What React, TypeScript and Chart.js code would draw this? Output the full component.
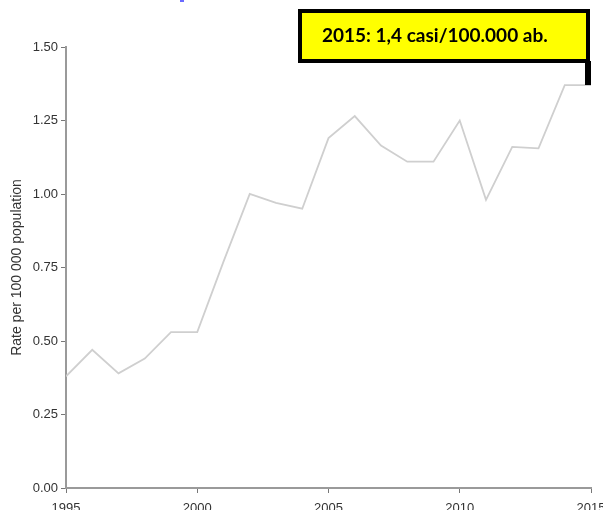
import React, { useEffect, useRef } from "react";
import { Chart, registerables } from "chart.js";

Chart.register(...registerables);

const years = [1995, 1996, 1997, 1998, 1999, 2000, 2001, 2002, 2003, 2004, 2005, 2006, 2007, 2008, 2009, 2010, 2011, 2012, 2013, 2014, 2015];
const rates = [0.38, 0.47, 0.39, 0.44, 0.53, 0.53, 0.77, 1.0, 0.97, 0.95, 1.19, 1.265, 1.165, 1.11, 1.11, 1.25, 0.98, 1.16, 1.155, 1.37, 1.37];
const xTickYears = [1995, 2000, 2005, 2010, 2015];
const yTickValues = [0, 0.25, 0.5, 0.75, 1.0, 1.25, 1.5];
const yAxisTitle = "Rate per 100 000 population";
const calloutText = "2015: 1,4 casi/100.000 ab.";

const calloutPlugin = {
  id: "callout",
  afterDraw(chart: any) {
    const ctx = chart.ctx;
    ctx.save();
    ctx.fillStyle = "#6a6aff";
    ctx.fillRect(180, 0, 4, 2);
    ctx.fillStyle = "#ffff00";
    ctx.fillRect(298, 9, 292, 54);
    ctx.strokeStyle = "#000";
    ctx.lineWidth = 4;
    ctx.strokeRect(300, 11, 288, 50);
    ctx.fillStyle = "#000";
    ctx.fillRect(585, 61, 6, 24);
    ctx.fillStyle = "#000";
    ctx.font = "bold 19px Lato";
    ctx.textAlign = "left";
    ctx.textBaseline = "alphabetic";
    ctx.fillText(calloutText, 322, 42);
    ctx.restore();
  },
};

export default function App() {
  const ref = useRef<HTMLCanvasElement>(null);
  useEffect(() => {
    if (!ref.current) return;
    const chart = new Chart(ref.current, {
      type: "line",
      data: {
        datasets: [
          {
            data: years.map((y, i) => ({ x: y, y: rates[i] })),
            borderColor: "#cfcfcf",
            borderWidth: 1.8,
            pointRadius: 0,
            tension: 0,
            fill: false,
          },
        ],
      },
      options: {
        animation: false,
        responsive: false,
        layout: { padding: { top: 47, right: 12, left: 0, bottom: 0 } },
        plugins: { legend: { display: false }, tooltip: { enabled: false } },
        scales: {
          x: {
            type: "linear",
            min: xTickYears[0],
            max: xTickYears[xTickYears.length - 1],
            afterBuildTicks(scale: any) {
              scale.ticks = xTickYears.map((v) => ({ value: v }));
            },
            afterFit(scale: any) {
              scale.height = 22;
              scale.paddingLeft = 0;
              scale.paddingRight = 0;
            },
            border: { display: true, color: "#9a9a9a", width: 2 },
            grid: { drawOnChartArea: false, drawTicks: true, tickLength: 5, color: "#777", lineWidth: 1 },
            ticks: {
              font: { family: "Liberation Sans", size: 13 },
              color: "#333",
              padding: 8,
              maxRotation: 0,
              autoSkip: false,
              callback: (v: any) => String(v),
            },
          },
          y: {
            min: 0,
            max: 1.5,
            afterBuildTicks(scale: any) {
              scale.ticks = yTickValues.map((v) => ({ value: v }));
            },
            afterFit(scale: any) {
              scale.width = 66;
            },
            border: { display: true, color: "#9a9a9a", width: 2 },
            grid: { drawOnChartArea: false, drawTicks: true, tickLength: 5, color: "#777", lineWidth: 1 },
            ticks: {
              font: { family: "Liberation Sans", size: 13 },
              color: "#333",
              padding: 3,
              callback: (v: any) => Number(v).toFixed(2),
            },
            title: {
              display: true,
              text: yAxisTitle,
              font: { family: "Liberation Sans", size: 14 },
              color: "#333",
              padding: { top: 9, bottom: 4 },
            },
          },
        },
      },
      plugins: [calloutPlugin],
    });
    return () => chart.destroy();
  }, []);
  return (
    <div style={{ position: "fixed", left: 0, top: 0, width: 603, height: 510, background: "#fff" }}>
      <canvas ref={ref} width={603} height={510} style={{ display: "block" }} />
    </div>
  );
}
